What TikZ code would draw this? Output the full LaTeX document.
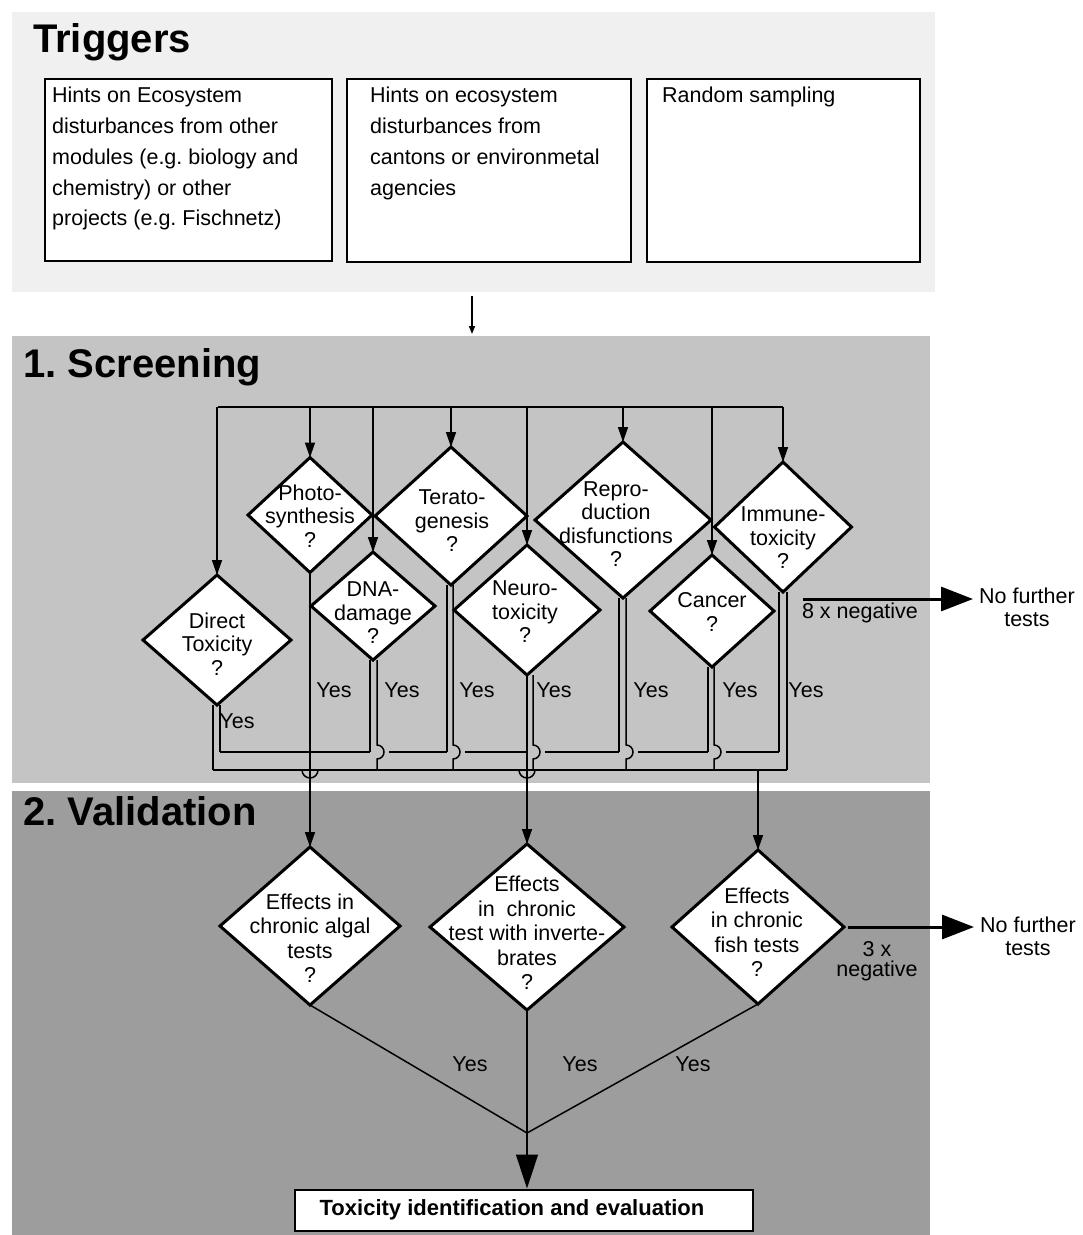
\documentclass[tikz,border=0pt]{standalone}
\usepackage{fontspec}
\setmainfont{Liberation Sans}
\usetikzlibrary{arrows.meta,shapes.geometric,calc}
\definecolor{trigbg}{HTML}{F0F0F0}
\definecolor{scrbg}{HTML}{C4C4C4}
\definecolor{valbg}{HTML}{9D9D9D}
\newcommand{\uphop}[1]{\draw[conn] (#1) -- ($(#1 |- ub)+(0,-7)$) arc[start angle=90,end angle=-90,radius=7pt] -- (#1 |- lb);}
\newcommand{\lowhop}[1]{\draw[conn] ($(#1 |- lb)+(-8,0)$) arc[start angle=180,end angle=360,radius=8pt];}
\frenchspacing
\begin{document}
\begin{tikzpicture}[x=1pt,y=-1pt,
  dia/.style={shape=diamond, draw=black, fill=white, line width=3pt, inner sep=0pt, outer sep=0pt},
  dtext/.style={align=center, font=\fontsize{21.5}{23.5}\selectfont, inner sep=0pt},
  vtext/.style={align=center, font=\fontsize{21.5}{24.5}\selectfont, inner sep=0pt},
  lbl/.style={font=\fontsize{21.5}{23}\selectfont, inner sep=0pt, align=center},
  titletext/.style={font=\fontsize{40}{44}\selectfont\bfseries, anchor=base west, inner sep=0pt},
  trig/.style={draw=black, line width=2pt, fill=white, anchor=north west, inner sep=0pt},
  ttext/.style={anchor=north west, align=left, inner sep=0pt, font=\fontsize{21.5}{30.8}\selectfont},
  conn/.style={line width=1.5pt},
  arr/.style={conn, -{Triangle[length=15pt,width=10pt]}},
  bigarr/.style={line width=3pt, -{Triangle[length=32pt,width=24pt]}},
]
\useasboundingbox (0,0) rectangle (1083,1235);
% backgrounds
\fill[trigbg] (12,12) rectangle (935,292);
\fill[scrbg] (12,336) rectangle (930,783);
\fill[valbg] (12,791) rectangle (930,1235);

% titles
\node[titletext] (trg) at (33,52) {Triggers};
\node[titletext] (scr) at (23,377) {1. Screening};
\node[titletext] (val) at (23,825) {2. Validation};

% trigger boxes
\node[trig, minimum width=287pt, minimum height=182pt] (tb1) at (44,78) {};
\node[trig, minimum width=284pt, minimum height=183pt] (tb2) at (346,78) {};
\node[trig, minimum width=273pt, minimum height=183pt] (tb3) at (646,78) {};
\node[ttext] (tb1-t) at (52,87) {Hints on Ecosystem\\disturbances from other\\modules (e.g. biology and\\chemistry) or other\\projects (e.g. Fischnetz)};
\node[ttext] (tb2-t) at (370,87) {Hints on ecosystem\\disturbances from\\cantons or environmetal\\agencies};
\node[ttext] (tb3-t) at (662,87) {Random sampling};

\coordinate (ta) at (472,296);
\coordinate (tb) at (472,334);
\draw[conn, -{Triangle[length=8pt,width=6pt]}] (ta) -- (tb);

% bus levels
\coordinate (topbusL) at (218,407);
\coordinate (topbusR) at (783,407);
\coordinate (ub) at (0,752);
\coordinate (lb) at (0,770);

% screening diamonds
\node[dia, minimum width=148pt, minimum height=130pt] (dt) at (217,640) {};
\node[dia, minimum width=124pt, minimum height=115pt] (ph) at (310,515) {};
\node[dia, minimum width=124pt, minimum height=108pt] (dna) at (373,606) {};
\node[dia, minimum width=152pt, minimum height=138pt] (ter) at (451,516) {};
\node[dia, minimum width=146pt, minimum height=130pt] (neu) at (527,610) {};
\node[dia, minimum width=176pt, minimum height=156pt] (rep) at (623,520) {};
\node[dia, minimum width=124pt, minimum height=112pt] (can) at (712,611) {};
\node[dia, minimum width=137pt, minimum height=130pt] (imm) at (783,527) {};

\node[dtext] (dt-t) at (217,644) {Direct\\Toxicity\\?};
\node[dtext] (ph-t) at (310,516) {Photo-\\synthesis\\?};
\node[dtext] (dna-t) at (373,613) {DNA-\\damage\\?};
\node[dtext] (ter-t) at (452,521) {Terato-\\genesis\\?};
\node[dtext] (neu-t) at (525,612) {Neuro-\\toxicity\\?};
\node[dtext] (rep-t) at (616,524) {Repro-\\duction\\disfunctions\\?};
\node[dtext] (can-t) at (712,612) {Cancer\\?};
\node[dtext] (imm-t) at (783,538) {Immune-\\toxicity\\?};

% top bus and drops
\draw[conn] (topbusL) -- (topbusR);
\foreach \n in {dt,ph,dna,ter,neu,rep,can,imm}{
  \draw[arr] (\n.north |- topbusL) -- (\n.north);
}

% validation diamonds
\node[dia, minimum width=180pt, minimum height=158pt] (alg) at (310,926) {};
\node[dia, minimum width=194pt, minimum height=166pt] (inv) at (527,927) {};
\node[dia, minimum width=172pt, minimum height=154pt] (fish) at (758,927) {};
\node[vtext] (alg-t) at (310,938) {Effects in\\chronic algal\\tests\\?};
\node[vtext] (inv-t) at (527,933) {Effects\\in\ \ chronic\\test with inverte-\\brates\\?};
\node[vtext] (fish-t) at (757,932) {Effects\\in chronic\\fish tests\\?};

% bottom line start points
\coordinate (dtL) at ([xshift=-4pt]dt.south);
\coordinate (dtR) at ([xshift=3pt]dt.south);
\coordinate (dnaL) at ([xshift=-3pt]dna.south);
\coordinate (dnaR) at ([xshift=4pt]dna.south);
\coordinate (terL) at ([xshift=-4pt]ter.south);
\coordinate (terR) at ([xshift=2pt]ter.south);
\coordinate (neuL) at (neu.south);
\coordinate (neuR) at ([xshift=6pt]neu.south);
\coordinate (repL) at ([xshift=-4pt]rep.south);
\coordinate (repR) at ([xshift=3pt]rep.south);
\coordinate (canL) at ([xshift=-4pt]can.south);
\coordinate (canR) at ([xshift=2pt]can.south);
\coordinate (immL) at ([xshift=-4pt]imm.south);
\coordinate (immR) at ([xshift=4pt]imm.south);

% lines to upper bus
\foreach \c in {dtR,dnaL,terL,repL,canL,immL}{
  \draw[conn] (\c) -- (\c |- ub);
}
% lines to lower bus
\draw[conn] (dtL) -- (dtL |- lb);
\draw[conn] (immR) -- (immR |- lb);
% hopping lines to lower bus
\uphop{dnaR}
\uphop{terR}
\uphop{neuR}
\uphop{repR}
\uphop{canR}

% upper bus segments
\draw[conn] (dtR |- ub) -- (dnaL |- ub);
\draw[conn] ($(dnaR |- ub)+(12,0)$) -- (terL |- ub);
\draw[conn] ($(terR |- ub)+(12,0)$) -- (neuL |- ub);
\draw[conn] ($(neuR |- ub)+(12,0)$) -- (repL |- ub);
\draw[conn] ($(repR |- ub)+(12,0)$) -- (canL |- ub);
\draw[conn] ($(canR |- ub)+(12,0)$) -- (immL |- ub);
% lower bus
\draw[conn] (dtL |- lb) -- (immR |- lb);
\lowhop{ph.south}
\lowhop{neu.south}

% through lines to validation
\draw[arr] (ph.south) -- (alg.north);
\draw[arr] (neu.south) -- (inv.north);
\draw[arr] (fish.north |- lb) -- (fish.north);

% Yes labels screening
\node[lbl] (y-dt) at (237,721) {Yes};
\node[lbl] (y-ph) at (334,690) {Yes};
\node[lbl] (y-dna) at (402,690) {Yes};
\node[lbl] (y-ter) at (477,690) {Yes};
\node[lbl] (y-neu) at (554,690) {Yes};
\node[lbl] (y-rep) at (651,690) {Yes};
\node[lbl] (y-can) at (740,690) {Yes};
\node[lbl] (y-imm) at (806,690) {Yes};

% 8x negative
\coordinate (n8s) at (803,599);
\node[lbl] (neg8) at (860,613) {8 x negative};
\node[lbl, inner xsep=6pt] (nf1) at (1027,607) {No further\\tests};
\draw[bigarr] (n8s) -- (nf1.west |- n8s);

% 3x negative
\node[lbl, font=\fontsize{21.5}{20}\selectfont] (neg3) at (877,961) {3 x\\negative};
\node[lbl, inner xsep=6pt] (nf2) at (1028,936) {No further\\tests};
\draw[bigarr, shorten <=4pt] (fish.east) -- (nf2.west |- fish.east);

% convergence
\coordinate (jn) at (527,1133);
\draw[conn] (alg.south) -- (jn);
\draw[conn] (inv.south) -- (jn);
\draw[conn] (fish.south) -- (jn);
\node[lbl] (vy1) at (470,1064) {Yes};
\node[lbl] (vy2) at (580,1064) {Yes};
\node[lbl] (vy3) at (693,1064) {Yes};

\node[draw=black, fill=white, line width=2pt, minimum width=458pt, minimum height=41pt, inner sep=0pt] (tie) at (524,1210) {};
\node[font=\fontsize{22}{24}\selectfont\bfseries, inner sep=0pt] (tie-t) at (512,1210) {Toxicity identification and evaluation};
\draw[conn, -{Triangle[length=34pt,width=22pt]}] (jn) -- (jn |- tie.north);
\end{tikzpicture}
\end{document}
